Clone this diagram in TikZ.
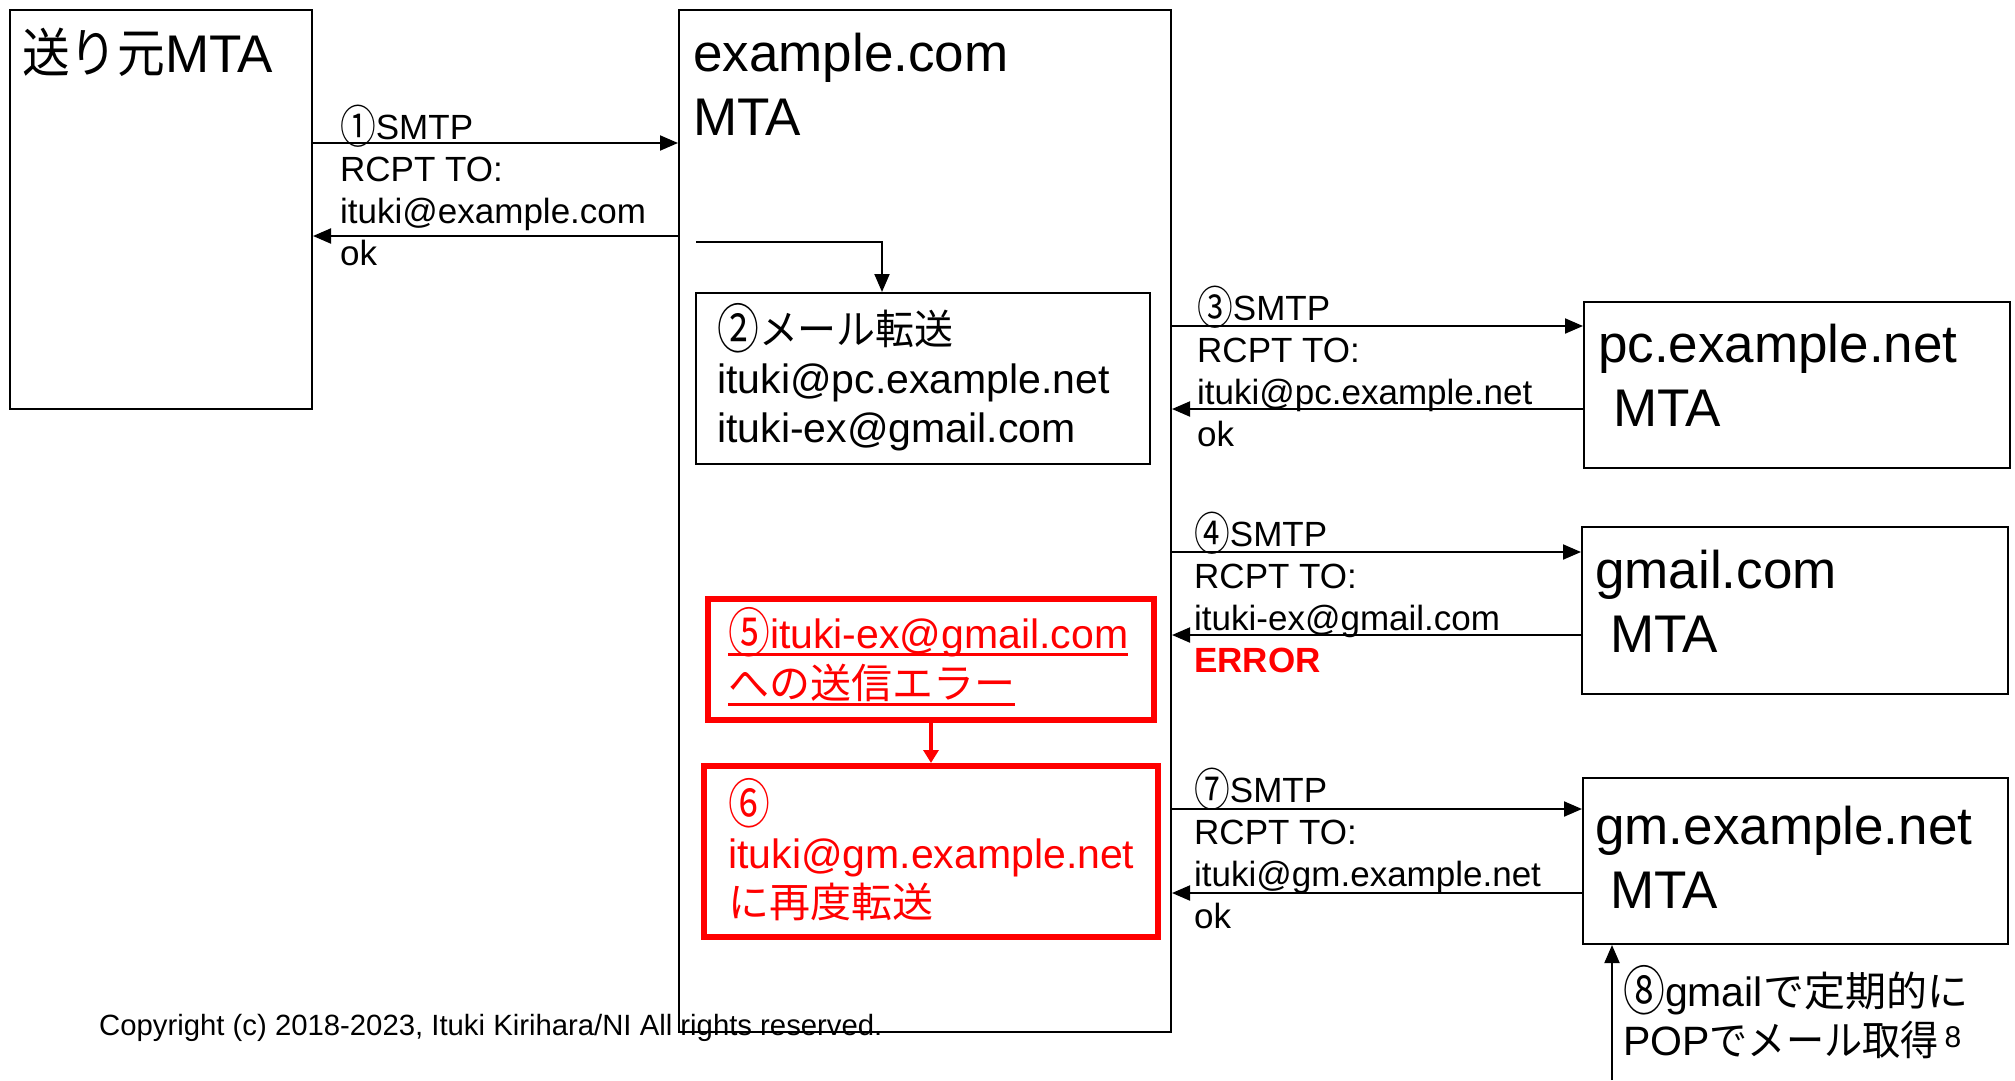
\documentclass[tikz,border=0pt]{standalone}
\usepackage{fontspec}
\setmainfont{Liberation Sans}
\newfontfamily\jp{Noto Sans CJK JP}
\usetikzlibrary{arrows.meta}

\newcommand{\bigtxt}{\fontsize{53}{63.5}\selectfont}
\newcommand{\midtxt}{\fontsize{41}{49}\selectfont}
\newcommand{\smltxt}{\fontsize{35}{42}\selectfont}
\newcommand{\cnum}[1]{\raisebox{-0.12em}{\scalebox{1.02}[1.3]{\jp #1}}}
\newsavebox{\undlbox}
\newcommand{\undl}[1]{\sbox{\undlbox}{#1}\rlap{\usebox{\undlbox}}\rule[-8pt]{\wd\undlbox}{3pt}}

\begin{document}
\begin{tikzpicture}[x=1pt, y=-1pt,
    box/.style={draw, line width=2pt, inner sep=0pt},
    redbox/.style={draw=red, line width=6pt, inner sep=0pt},
    txt/.style={anchor=base west, inner sep=0pt, align=left},
    msg/.style={line width=2pt, -{Triangle[length=18pt,width=15pt]}},
    redmsg/.style={draw=red, line width=4pt, -{Triangle[length=13pt,width=15pt]}}]
  \useasboundingbox (0,0) rectangle (2015,1080);

  % servers
  \node[box, minimum width=302pt, minimum height=399pt] (sender) at (161,209.5) {};
  \node[box, minimum width=492pt, minimum height=1022pt] (excom) at (925,521) {};
  \node[box, minimum width=426pt, minimum height=166pt] (pcnet) at (1797,385) {};
  \node[box, minimum width=426pt, minimum height=167pt] (gmail) at (1795,610.5) {};
  \node[box, minimum width=425pt, minimum height=166pt] (gmnet) at (1795.5,861) {};

  % (text nodes sit on the baseline of their last line)
  \node[txt, font=\bigtxt] (sendertxt) at (22,72) {\scalebox{0.9}[1]{\jp 送り元}MTA};
  \node[txt, font=\bigtxt] (excomtxt) at (693,135) {example.com\\MTA};
  \node[txt, font=\bigtxt] (pcnettxt) at (1598,426) {pc.example.net\\\hspace*{15pt}MTA};
  \node[txt, font=\bigtxt] (gmailtxt) at (1595,652) {gmail.com\\\hspace*{15pt}MTA};
  \node[txt, font=\bigtxt] (gmnettxt) at (1595,908) {gm.example.net\\\hspace*{15pt}MTA};

  % forwarding inside example.com
  \node[box, minimum width=454pt, minimum height=171pt] (fwd) at (923,378.5) {};
  \node[txt, font=\midtxt] (fwdtxt) at (717,442)
    {\cnum{②}\scalebox{0.95}[1]{\jp メール転送}\\ituki@pc.example.net\\ituki-ex@gmail.com};
  \coordinate (fstart) at (696,242);
  \draw[msg] (fstart) -| (882,0 |- fwd.north);

  \node[redbox, minimum width=446pt, minimum height=121pt] (err) at (931,659.5) {};
  \node[txt, font=\midtxt, text=red] (errtxt) at (728,698)
    {\undl{\cnum{⑤}ituki-ex@gmail.com}\\[1pt]\undl{\jp への送信エラー}};
  \node[redbox, minimum width=454pt, minimum height=171pt] (refwd) at (931,851.5) {};
  \node[txt, font=\midtxt, text=red] (refwdtxt) at (728,917)
    {\cnum{⑥}\\ituki@gm.example.net\\{\jp に再度転送}};
  \draw[redmsg] (err.south) -- (refwd.north);

  % SMTP sessions
  \draw[msg] (sender.east |- 0,143) -- (excom.west |- 0,143);
  \draw[msg] (excom.west |- 0,236) -- (sender.east |- 0,236);
  \node[txt, font=\smltxt] (smtp1) at (340,265)
    {\cnum{①}SMTP\\RCPT TO:\\ituki@example.com\\ok};

  \draw[msg] (excom.east |- 0,326) -- (pcnet.west |- 0,326);
  \draw[msg] (pcnet.west |- 0,409) -- (excom.east |- 0,409);
  \node[txt, font=\smltxt] (smtp3) at (1197,446)
    {\cnum{③}SMTP\\RCPT TO:\\ituki@pc.example.net\\ok};

  \draw[msg] (excom.east |- 0,552) -- (gmail.west |- 0,552);
  \draw[msg] (gmail.west |- 0,635) -- (excom.east |- 0,635);
  \node[txt, font=\smltxt] (smtp4) at (1194,672)
    {\cnum{④}SMTP\\RCPT TO:\\ituki-ex@gmail.com\\{\color{red}\bfseries ERROR}};

  \draw[msg] (excom.east |- 0,809) -- (gmnet.west |- 0,809);
  \draw[msg] (gmnet.west |- 0,893) -- (excom.east |- 0,893);
  \node[txt, font=\smltxt] (smtp7) at (1194,928)
    {\cnum{⑦}SMTP\\RCPT TO:\\ituki@gm.example.net\\ok};

  % POP
  \coordinate (pop) at (1612,1080);
  \draw[msg] (pop) -- (pop |- gmnet.south);
  \node[txt, font=\midtxt] (poptxt) at (1623,1055)
    {\cnum{⑧}gmail{\jp で定期的に}\\POP\scalebox{0.93}[1]{\jp でメール取得}\hspace{6pt}\raisebox{8pt}{\fontsize{30}{30}\selectfont 8}};

  \node[txt, font=\fontsize{29.3}{35}\selectfont] (copy) at (99,1035)
    {Copyright (c) 2018-2023, Ituki Kirihara/NI All rights reserved.};
\end{tikzpicture}
\end{document}
